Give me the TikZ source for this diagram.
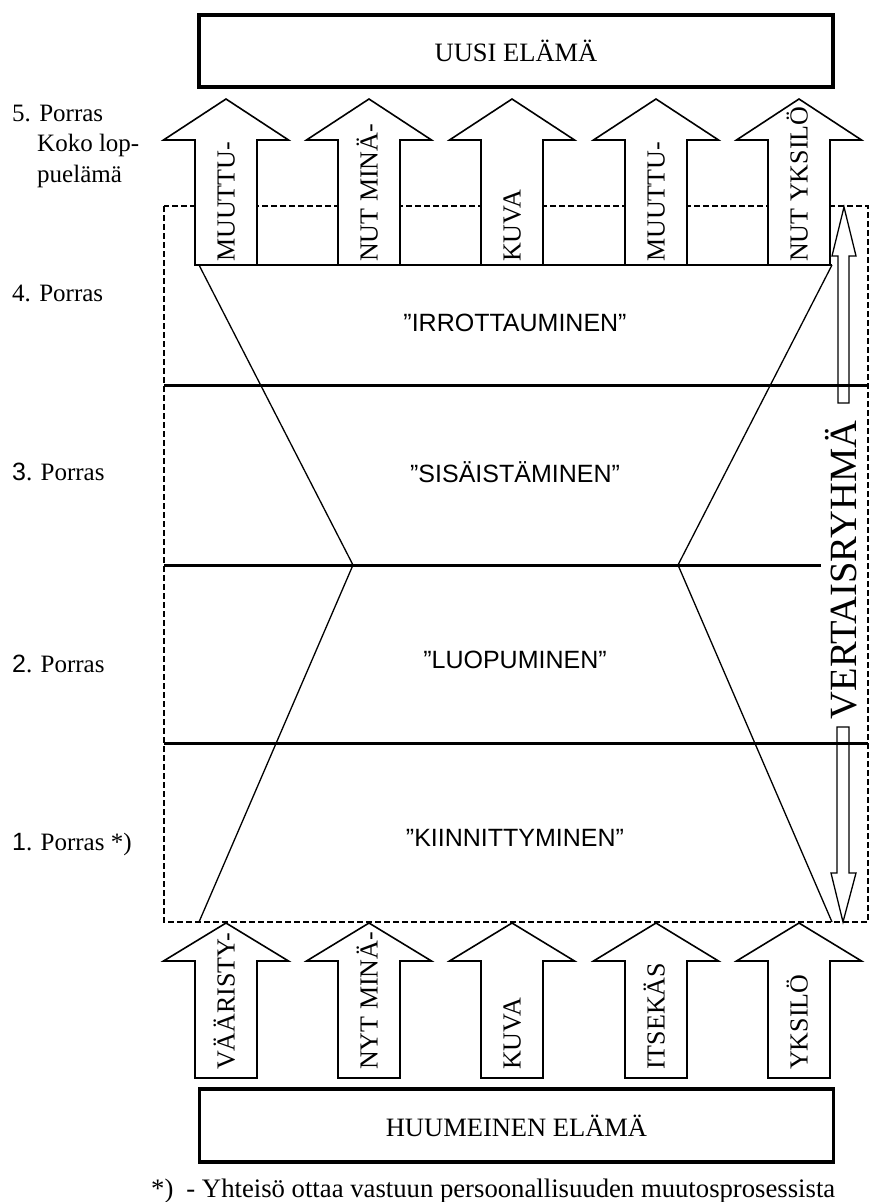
\documentclass[tikz,border=0pt]{standalone}
\usepackage{fontspec}
\setmainfont{Liberation Serif}
\setsansfont{Liberation Sans}
\usetikzlibrary{positioning}

\begin{document}
\begin{tikzpicture}[x=1pt,y=-1pt,
  lifebox/.style={draw,line width=3.3pt,minimum width=634pt,minimum height=72pt,inner sep=0pt,font=\fontsize{26.5}{30}\selectfont},
  flowarrow/.style={draw,fill=white,line width=1.6pt},
  armlabel/.style={rotate=90,anchor=west,inner sep=0pt,text height=17pt,text depth=0pt,font=\fontsize{26}{30}\selectfont},
  stagetext/.style={inner sep=0pt,font=\sffamily\fontsize{25}{30}\selectfont},
  steplabel/.style={anchor=base west,inner sep=0pt,font=\fontsize{25}{30}\selectfont},
  stepline/.style={line width=3pt},
  slope/.style={line width=1.3pt}]
\useasboundingbox (0,0) rectangle (871,1202);

\node[lifebox] (new) at (516,51) {UUSI ELÄMÄ};
\node[lifebox,minimum height=73pt] (old) at (516.5,1125.5) {HUUMEINEN ELÄMÄ};

% vertaisryhma frame
\draw[line width=2.3pt,dash pattern=on 6pt off 3pt] (164,206) rectangle (868,922);

% the two sides of the process
\coordinate (tl) at (199,265);
\coordinate (ml) at (353,565);
\coordinate (bl) at (199,922);
\coordinate (tr) at (832,265);
\coordinate (mr) at (678,565);
\coordinate (br) at (832,922);
\draw[slope] (tl) -- (ml) -- (bl);
\draw[slope] (tr) -- (mr) -- (br);
\draw[flowarrow] (195,265) -- (tr);

% arrows out and in
\foreach \x/\txt [count=\i] in {226/MUUTTU-,369/NUT MINÄ-,512/KUVA,656/MUUTTU-,799/NUT YKSILÖ}{
  \draw[flowarrow] (\x-31,265) -- (\x-31,140) -- (\x-62.5,140) -- (\x,99) -- (\x+62.5,140) -- (\x+31,140) -- (\x+31,265) -- cycle;
  \node[armlabel] (up\i) at (\x,262) {\txt};
}
\foreach \x/\txt [count=\i] in {226/VÄÄRISTY-,369/NYT MINÄ-,512/KUVA,656/ITSEKÄS,799/YKSILÖ}{
  \draw[flowarrow] (\x-31,1078) -- (\x-31,961) -- (\x-62.5,961) -- (\x,923) -- (\x+62.5,961) -- (\x+31,961) -- (\x+31,1078) -- cycle;
  \node[armlabel] (dn\i) at (\x,1070) {\txt};
}

% peer group
\draw[flowarrow,line width=1.3pt] (838,403) -- (838,256) -- (832,256) -- (844,207) -- (856,256) -- (849,256) -- (849,403) -- cycle;
\draw[flowarrow,line width=1.3pt] (837,727) -- (837,873) -- (831,873) -- (843,922) -- (856,873) -- (849,873) -- (849,727) -- cycle;
\node[rotate=90,inner sep=0pt,text height=25pt,text depth=0pt,font=\fontsize{38.5}{40}\selectfont] (peer) at (844,570) {VERTAISRYHMÄ};

\draw[stepline] (164,385) -- (868,385);
\draw[stepline] (164,565) -- (821,565);
\draw[stepline] (164,743) -- (868,743);

\node[stagetext] (st4) at (515,323) {”IRROTTAUMINEN”};
\node[stagetext] (st3) at (515,472) {”SISÄISTÄMINEN”};
\node[stagetext] (st2) at (515,660) {”LUOPUMINEN”};
\node[stagetext] (st1) at (515,838) {”KIINNITTYMINEN”};

\node[steplabel] (p5) at (12,121) {5. Porras};
\node[steplabel] (p5b) at (37,151) {Koko lop-};
\node[steplabel] (p5c) at (37,182) {puelämä};
\node[steplabel] (p4) at (12,301) {4. Porras};
\node[steplabel] (p3) at (12,480) {{\sffamily 3}. Porras};
\node[steplabel] (p2) at (12,672) {{\sffamily 2}. Porras};
\node[steplabel] (p1) at (12,850) {{\sffamily 1}. Porras *)};

\node[steplabel,font=\fontsize{26.7}{30}\selectfont] (note) at (151,1197) {*)\hspace{13pt}- Yhteisö ottaa vastuun persoonallisuuden muutosprosessista};
\end{tikzpicture}
\end{document}
